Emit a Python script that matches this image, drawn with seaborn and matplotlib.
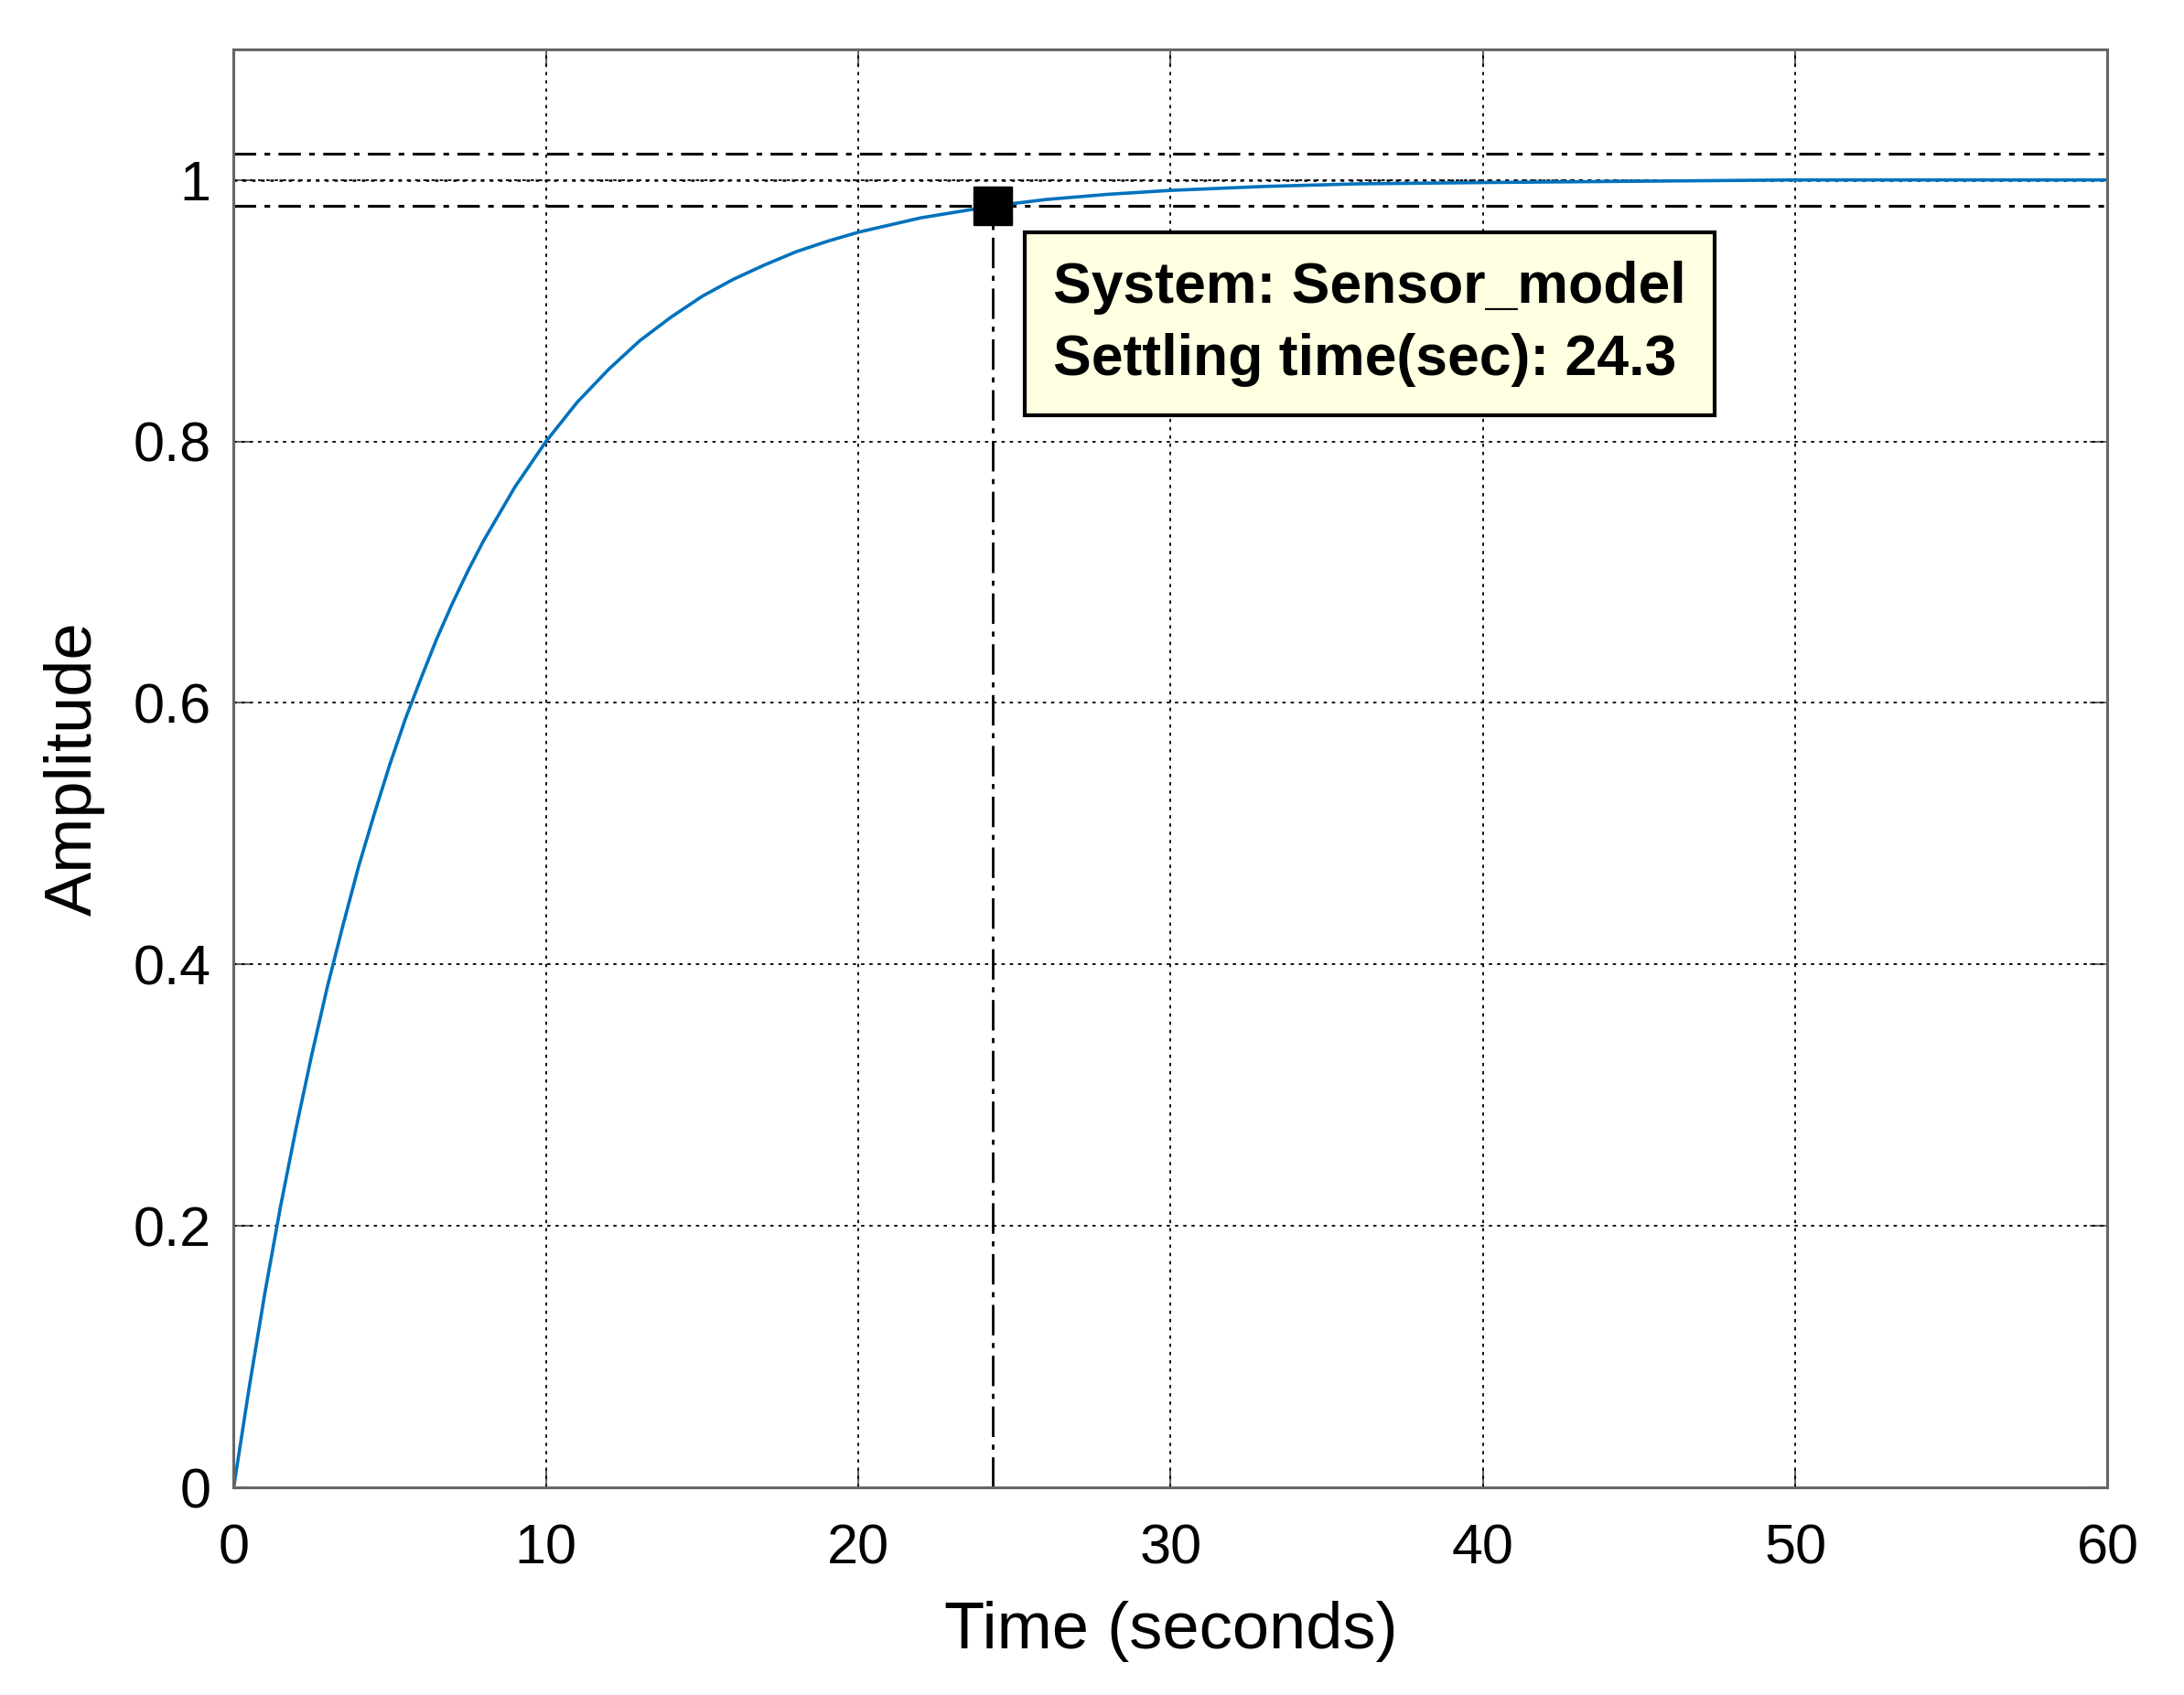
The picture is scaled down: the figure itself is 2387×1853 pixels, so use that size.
import numpy as np
import pandas as pd
import matplotlib
matplotlib.use("Agg")
import matplotlib.pyplot as plt
import seaborn as sns

# Step response
time_s = [0, 0.5, 1, 1.5, 2, 2.5, 3, 3.5, 4, 4.5, 5, 5.5, 6, 6.5, 7, 7.5, 8, 9,
          10, 11, 12, 13, 14, 15, 16, 17, 18, 19, 20, 22, 24.3, 26, 28, 30,
          33, 36, 40, 45, 50, 55, 60]
amplitude = [0.0, 0.077, 0.149, 0.215, 0.275, 0.331, 0.383, 0.430, 0.475, 0.515,
             0.553, 0.588, 0.619, 0.649, 0.676, 0.701, 0.724, 0.765,
             0.800, 0.830, 0.855, 0.877, 0.895, 0.911, 0.924, 0.935, 0.945, 0.953,
             0.960, 0.971, 0.980, 0.985, 0.989, 0.992,
             0.995, 0.997, 0.998, 0.999, 1.000, 1.000, 1.000]

settling_time = 24.3
settling_value = 0.98
steady_state = 1.0
band = [0.98, 1.02]

x_ticks = [0, 10, 20, 30, 40, 50, 60]
y_ticks = [0, 0.2, 0.4, 0.6, 0.8, 1.0]
y_tick_labels = ["0", "0.2", "0.4", "0.6", "0.8", "1"]
annotation = "System: Sensor_model\nSettling time(sec): 24.3"

sns.set_theme(style="white")
plt.rcParams["font.family"] = ["Liberation Sans", "DejaVu Sans"]
plt.rcParams["text.color"] = "black"
plt.rcParams["axes.labelcolor"] = "black"

df = pd.DataFrame({"Time": time_s, "Amplitude": amplitude})

fig = plt.figure(figsize=(23.87, 18.53), dpi=100)
ax = fig.add_axes([0.107, 0.1224, 0.965 - 0.107, 0.971 - 0.1224])

# grid first so everything sits on top
for xv in x_ticks[1:-1]:
    ax.axvline(xv, color="black", lw=1.3, ls=(0, (2, 3)), zorder=1)
for yv in y_ticks[1:]:
    ax.axhline(yv, color="black", lw=1.3, ls=(0, (2, 3)), zorder=1)

# settling band and steady state
for b in band:
    ax.axhline(b, color="black", lw=2.2, ls=(0, (8, 3, 2, 3)), zorder=2)
ax.axhline(steady_state, color="black", lw=1.8, ls=(0, (1.5, 2.5)), zorder=2)
ax.plot([settling_time, settling_time], [0, settling_value], color="black",
        lw=2.0, ls=(0, (12, 3, 2, 3)), zorder=2)

sns.lineplot(data=df, x="Time", y="Amplitude", color="#0072BD", lw=2.6, ax=ax, zorder=3)

ax.plot([settling_time], [settling_value], marker="s", ms=30, color="black", zorder=4)

ax.text(26.25, 0.938, annotation, fontsize=45, fontweight="bold", ha="left", va="top",
        color="black", linespacing=1.42, zorder=5,
        bbox=dict(boxstyle="square,pad=0.5", fc="#FFFFE1", ec="black", lw=3))

ax.set_xlim(0, 60)
ax.set_ylim(0, 1.1)
ax.set_xticks(x_ticks)
ax.set_yticks(y_ticks)
ax.set_yticklabels(y_tick_labels)
ax.tick_params(direction="in", length=14, width=1.5, color="#666666",
               labelsize=44, labelcolor="black", top=True, right=True,
               bottom=True, left=True)
ax.tick_params(axis="x", pad=28)
ax.tick_params(axis="y", pad=18)
ax.set_xlabel("Time (seconds)", fontsize=52, labelpad=20)
ax.set_ylabel("Amplitude", fontsize=52, labelpad=22)

for s in ax.spines.values():
    s.set_color("#666666")
    s.set_linewidth(2.2)
    s.set_zorder(6)

fig.savefig("out.png", dpi=100, facecolor="white")
